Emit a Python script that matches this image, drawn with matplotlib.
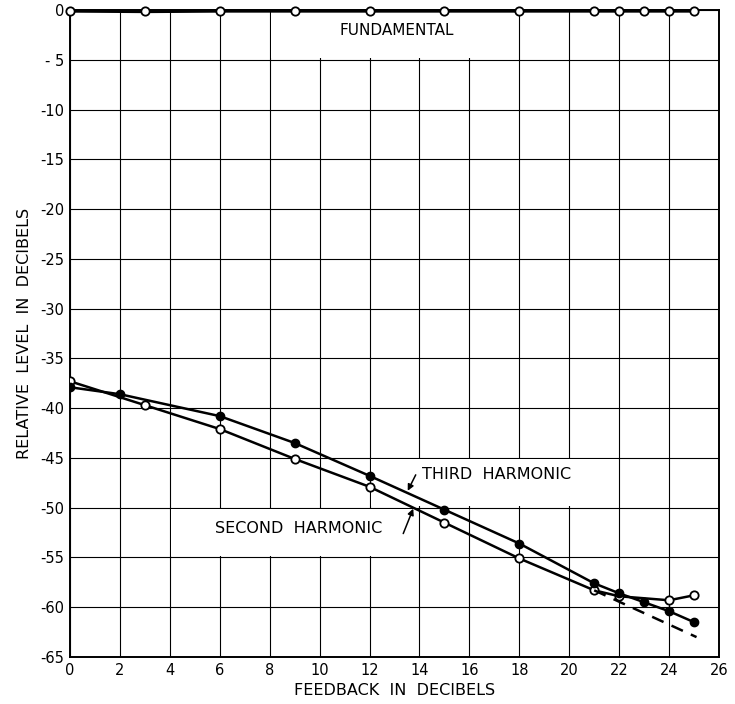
import matplotlib
matplotlib.use("Agg")
import matplotlib.pyplot as plt
from matplotlib.patches import Rectangle

# ---- data ----
fund_x = [0, 3, 6, 9, 12, 15, 18, 21, 22, 23, 24, 25]
fund_y = [-0.1, -0.15, -0.1, -0.1, -0.1, -0.1, -0.1, -0.1, -0.1, -0.1, -0.1, -0.1]

third_x = [0, 2, 6, 9, 12, 15, 18, 21, 22, 23, 24, 25]
third_y = [-37.9, -38.6, -40.8, -43.5, -46.8, -50.2, -53.6, -57.6, -58.6, -59.5, -60.4, -61.5]

second_x = [0, 3, 6, 9, 12, 15, 18, 21, 22, 24, 25]
second_y = [-37.3, -39.7, -42.1, -45.1, -47.9, -51.5, -55.1, -58.3, -58.9, -59.3, -58.8]

dash_x = [21, 25.1]
dash_y = [-58.3, -63.0]

x_ticks = list(range(0, 27, 2))
y_ticks = list(range(0, -66, -5))
y_tick_labels = ['0', '- 5', '-10', '-15', '-20', '-25', '-30', '-35',
                 '-40', '-45', '-50', '-55', '-60', '-65']

plt.rcParams['font.family'] = ['DejaVu Sans']

fig = plt.figure(figsize=(7.35, 7.04), dpi=100)
ax = fig.add_axes([70/735, 47/704, 649/735, 647/704])

ax.set_xlim(0, 26)
ax.set_ylim(-65, 0)
ax.set_xticks(x_ticks)
ax.set_xticklabels([str(v) for v in x_ticks], fontsize=10.5)
ax.set_yticks(y_ticks)
ax.set_yticklabels(y_tick_labels, fontsize=10.5)
ax.tick_params(length=0, pad=4)
ax.tick_params(axis='y', pad=4)

ax.grid(True, color='black', linewidth=0.8)
ax.set_axisbelow(True)
for s in ax.spines.values():
    s.set_linewidth(1.4)

# white label boxes (interrupting the grid)
for (x0, y0, w, h) in [(8, -5, 10, 5), (12, -50, 10, 5), (4, -55, 10, 5)]:
    ax.add_patch(Rectangle((x0 + 0.06, y0 + 0.15), w - 0.12, h - 0.3,
                           facecolor='white', edgecolor='none', zorder=1))

ax.plot(fund_x, fund_y, color='black', lw=2.4, marker='o', ms=6,
        mfc='white', mec='black', mew=1.3, clip_on=False, zorder=4)
ax.plot(second_x, second_y, color='black', lw=1.8, marker='o', ms=6,
        mfc='white', mec='black', mew=1.3, zorder=3)
ax.plot(third_x, third_y, color='black', lw=1.8, marker='o', ms=6,
        mfc='black', mec='black', zorder=3)
ax.plot(dash_x, dash_y, color='black', lw=1.8, ls=(0, (5, 3.5)), zorder=3)

ax.text(13.1, -2.1, 'FUNDAMENTAL', fontsize=11, ha='center', va='center', zorder=5)
ax.text(14.1, -46.7, 'THIRD  HARMONIC', fontsize=11.5, ha='left', va='center', zorder=5)
ax.text(5.8, -52.1, 'SECOND  HARMONIC', fontsize=11.5, ha='left', va='center', zorder=5)

ax.annotate('', xy=(13.53, -48.3), xytext=(13.85, -46.7),
            arrowprops=dict(arrowstyle='-|>', lw=1.1, color='black',
                            mutation_scale=9, shrinkA=0, shrinkB=0), zorder=5)
ax.annotate('', xy=(13.75, -50.1), xytext=(13.35, -52.6),
            arrowprops=dict(arrowstyle='-|>', lw=1.1, color='black',
                            mutation_scale=9, shrinkA=0, shrinkB=0), zorder=5)

ax.set_xlabel('FEEDBACK  IN  DECIBELS', fontsize=11.5, labelpad=4)
ax.set_ylabel('RELATIVE  LEVEL  IN  DECIBELS', fontsize=11.5, labelpad=6)

fig.savefig('out.png', dpi=100, facecolor='white')
